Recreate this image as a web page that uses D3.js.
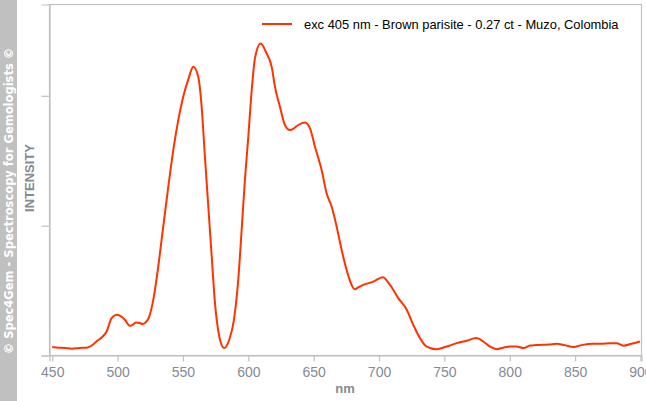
<!DOCTYPE html>
<html><head><meta charset="utf-8">
<script src="https://cdn.jsdelivr.net/npm/d3@7"></script>
<style>body{margin:0;background:#fff;}svg{display:block;}</style>
</head><body>
<script>
const wavelengths = [450,455,460,465,471,476,480,484,488,491.6,495.4,499.3,502,505.6,509.4,512,514,517,519.2,522,524.2,527.3,531.1,534.9,538.8,542.6,546.4,550.2,554.1,557.9,561.7,564.3,566.8,569.4,572,574.5,577.8,581.4,585.4,589,592.3,594.9,597.4,600,602.6,605.1,609.4,614,617.9,620.4,624.2,628,631.9,635,638.2,643.3,647.2,651,656.1,659.9,663.8,667.6,671.4,675.2,681.6,684,687.9,695.6,702.8,708.4,714.7,721.2,726.2,731.3,736.4,744.1,750.5,755,759.4,767.1,774.2,779.8,784.9,790,795,800.2,805,810.4,815.5,820,825,830,835.9,842,848.6,855,863.9,870,876,881.8,886.9,893,899.6];
const intensity = [0.065,0.06,0.058,0.052,0.058,0.06,0.075,0.11,0.14,0.185,0.288,0.313,0.305,0.275,0.228,0.24,0.254,0.25,0.242,0.26,0.300,0.428,0.685,0.992,1.300,1.582,1.813,1.992,2.126,2.223,2.146,1.915,1.531,1.146,0.762,0.403,0.146,0.057,0.121,0.275,0.582,0.967,1.352,1.685,2.044,2.29,2.403,2.326,2.223,2.069,1.915,1.775,1.736,1.75,1.775,1.795,1.749,1.608,1.428,1.249,1.146,0.992,0.813,0.659,0.511,0.525,0.544,0.569,0.603,0.544,0.442,0.352,0.236,0.134,0.069,0.049,0.065,0.08,0.095,0.113,0.134,0.108,0.069,0.049,0.06,0.069,0.07,0.057,0.077,0.08,0.082,0.085,0.090,0.08,0.065,0.08,0.090,0.09,0.095,0.095,0.075,0.09,0.108];
const xTicks = [450,500,550,600,650,700,750,800,850,900];
const yTicks = [0,1,2];
const legendLabel = "exc 405 nm - Brown parisite - 0.27 ct - Muzo, Colombia";

const W = 646, H = 401;
const L = 49.5, R = 641.5, T = 4.5, B = 355.5;
const svg = d3.select("body").append("svg").attr("width", W).attr("height", H);

// sidebar
svg.append("rect").attr("x",0).attr("y",0).attr("width",17).attr("height",H).attr("fill","#c0c0c0");
svg.append("text").attr("transform","translate(13,201) rotate(-90)")
  .attr("text-anchor","middle").attr("fill","#fff").attr("font-family","DejaVu Sans, sans-serif")
  .attr("font-weight","bold").attr("font-size","11.5px").text("© Spec4Gem - Spectroscopy for Gemologists ©");

const x = d3.scaleLinear().domain([447.9, 900.8]).range([L, R]);
const y = d3.scaleLinear().domain([0, 2.703]).range([B, T]);

// frame
svg.append("rect").attr("x",L).attr("y",T).attr("width",R-L).attr("height",B-T)
  .attr("fill","none").attr("stroke","#c0c0c0").attr("stroke-width",1.2);

const xa = svg.append("g").attr("transform",`translate(0,${B})`)
  .call(d3.axisBottom(x).tickValues(xTicks).tickSize(6).tickPadding(6).tickFormat(d3.format("d")));
const ya = svg.append("g").attr("transform",`translate(${L},0)`)
  .call(d3.axisLeft(y).tickValues(yTicks).tickSize(8).tickFormat(""));
[xa,ya].forEach(g=>{
  g.select(".domain").attr("stroke","#c0c0c0").attr("stroke-width",1.2);
  g.selectAll(".tick line").attr("stroke","#c0c0c0").attr("stroke-width",1.2);
  g.selectAll(".tick text").attr("fill","#858a94").attr("font-family","Liberation Sans, Arial, sans-serif").attr("font-size","14px");
});

svg.append("text").attr("x",345).attr("y",393).attr("text-anchor","middle")
  .attr("fill","#858a94").attr("font-family","Liberation Sans, Arial, sans-serif").attr("font-weight","bold")
  .attr("font-size","13px").text("nm");
svg.append("text").attr("transform","translate(34,178) rotate(-90)").attr("text-anchor","middle")
  .attr("fill","#858a94").attr("font-family","Liberation Sans, Arial, sans-serif").attr("font-weight","bold")
  .attr("font-size","13px").text("INTENSITY");

const data = wavelengths.map((w,i)=>[w,intensity[i]]);
svg.append("path").datum(data).attr("fill","none").attr("stroke","#ff3300").attr("stroke-width",2)
  .attr("d", d3.line().x(d=>x(d[0])).y(d=>y(d[1])).curve(d3.curveMonotoneX));

// legend
svg.append("line").attr("x1",262).attr("x2",292).attr("y1",24).attr("y2",24).attr("stroke","#ff3300").attr("stroke-width",2);
svg.append("text").attr("x",304).attr("y",28.5).attr("fill","#000")
  .attr("font-family","Liberation Sans, Arial, sans-serif").attr("font-size","12.9px").text(legendLabel);
</script>
</body></html>
